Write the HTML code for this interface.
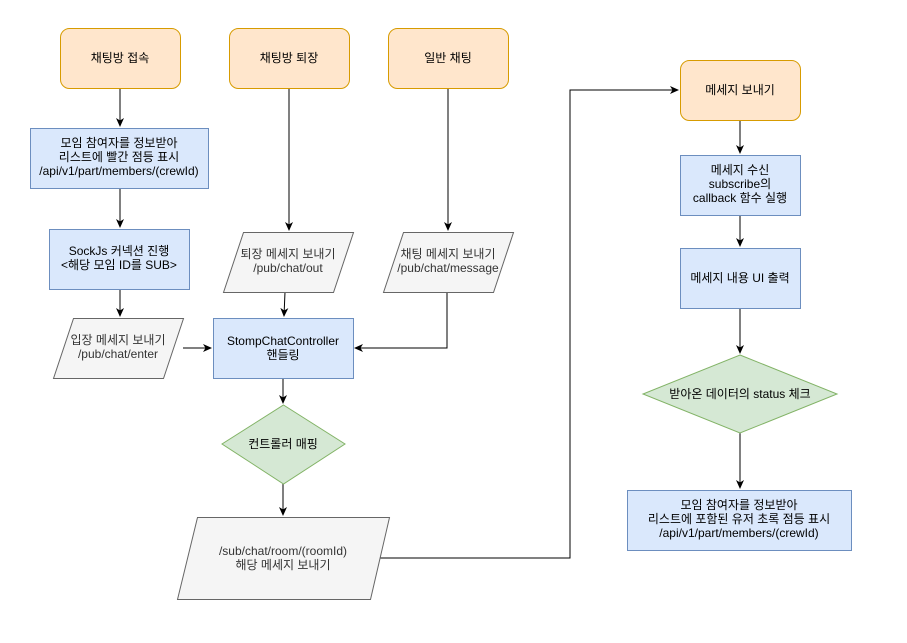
<!DOCTYPE html>
<html><head><meta charset="utf-8"><style>
html,body{margin:0;padding:0;background:#fff;}
svg text{font-family:"Liberation Sans","Noto Sans CJK KR",sans-serif;font-size:12px;text-anchor:middle;}
</style></head><body>
<svg width="907" height="638" viewBox="0 0 907 638" xmlns="http://www.w3.org/2000/svg">
<defs><marker id="a" markerWidth="10" markerHeight="10" refX="8" refY="5" orient="auto" markerUnits="userSpaceOnUse"><path d="M0,1 L9,5 L0,9 L2.5,5 Z" fill="#000"/></marker></defs>
<g fill="none" stroke="#000" stroke-width="1" marker-end="url(#a)">
<path d="M120,88 V126"/>
<path d="M120,188 V227"/>
<path d="M120,289 V316"/>
<path d="M183,348 H211"/>
<path d="M289,88 V230"/>
<path d="M285,292 L284,316"/>
<path d="M448,88 V230"/>
<path d="M447,292 V348 H355"/>
<path d="M283,378 V403"/>
<path d="M283,484 V515"/>
<path d="M380,558 H570 V90 H678"/>
<path d="M740,120 V153"/>
<path d="M740,215 V246"/>
<path d="M740,308 V353"/>
<path d="M740,433 V488"/>
</g>
<g stroke="#d79b00" fill="#ffe6cc">
<rect x="60.5" y="28.5" width="120" height="60" rx="9"/>
<rect x="229.5" y="28.5" width="120" height="60" rx="9"/>
<rect x="388.5" y="28.5" width="120" height="60" rx="9"/>
<rect x="680.5" y="60.5" width="120" height="60" rx="9"/>
</g>
<g stroke="#6c8ebf" fill="#dae8fc">
<rect x="30.5" y="128.5" width="178" height="60"/>
<rect x="49.5" y="229.5" width="140" height="60"/>
<rect x="213.5" y="318.5" width="140" height="60"/>
<rect x="680.5" y="155.5" width="120" height="60"/>
<rect x="680.5" y="248.5" width="120" height="60"/>
<rect x="627.5" y="490.5" width="224" height="60"/>
</g>
<g stroke="#666" fill="#f5f5f5">
<polygon points="73.5,318.5 183.5,318.5 163.5,378.5 53.5,378.5"/>
<polygon points="243.5,232.5 353.5,232.5 333.5,292.5 223.5,292.5"/>
<polygon points="403.5,232.5 513.5,232.5 493.5,292.5 383.5,292.5"/>
<polygon points="197.5,517.5 389.5,517.5 370.5,599.5 177.5,599.5"/>
</g>
<g stroke="#82b366" fill="#d5e8d4">
<polygon points="283.5,405 345,444 283.5,484 222,444"/>
<polygon points="740,355 837,394 740,433 643,394"/>
</g>
<g fill="#000">
<text x="120" y="62">채팅방 접속</text>
<text x="289" y="62">채팅방 퇴장</text>
<text x="448" y="62">일반 채팅</text>
<text x="740" y="94">메세지 보내기</text>
<text x="119" y="147">모임 참여자를 정보받아</text>
<text x="119" y="161">리스트에 빨간 점등 표시</text>
<text x="119" y="175">/api/v1/part/members/(crewId)</text>
<text x="119" y="255">SockJs 커넥션 진행</text>
<text x="119" y="269">&lt;해당 모임 ID를 SUB&gt;</text>
<text x="283" y="345">StompChatController</text>
<text x="283" y="359">핸들링</text>
<text x="283" y="448">컨트롤러 매핑</text>
<text x="740" y="174">메세지 수신</text>
<text x="740" y="188">subscribe의</text>
<text x="740" y="202">callback 함수 실행</text>
<text x="740" y="282">메세지 내용 UI 출력</text>
<text x="740" y="398">받아온 데이터의 status 체크</text>
<text x="739" y="509">모임 참여자를 정보받아</text>
<text x="739" y="523">리스트에 포함된 유저 초록 점등 표시</text>
<text x="739" y="537">/api/v1/part/members/(crewId)</text>
</g>
<g fill="#333">
<text x="118" y="344">입장 메세지 보내기</text>
<text x="118" y="358">/pub/chat/enter</text>
<text x="288" y="258">퇴장 메세지 보내기</text>
<text x="288" y="272">/pub/chat/out</text>
<text x="448" y="258">채팅 메세지 보내기</text>
<text x="448" y="272">/pub/chat/message</text>
<text x="283" y="555">/sub/chat/room/(roomId)</text>
<text x="283" y="569">해당 메세지 보내기</text>
</g>
</svg>
</body></html>
